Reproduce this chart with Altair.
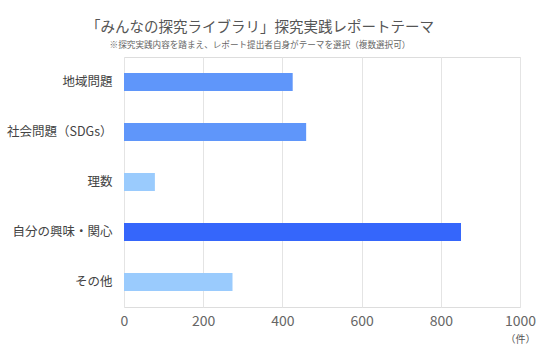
import altair as alt
import pandas as pd

categories = ["地域問題", "社会問題（SDGs）", "理数", "自分の興味・関心", "その他"]
values = [426, 460, 78, 851, 274]
colors = ["#5f96fa", "#5f96fa", "#9acbfd", "#3566fb", "#9acbfd"]

df = pd.DataFrame({"cat": categories, "val": values, "col": colors})

FONT = "Noto Sans CJK JP"

chart = alt.Chart(df).mark_bar().encode(
    y=alt.Y("cat:N", sort=categories, title=None,
            scale=alt.Scale(paddingInner=0.64, paddingOuter=0.32),
            axis=alt.Axis(domain=False, ticks=False, labelPadding=12,
                          labelFontSize=12.5, labelColor="#444444", labelFont=FONT)),
    x=alt.X("val:Q", title="（件）",
            scale=alt.Scale(domain=[0, 1000]),
            axis=alt.Axis(values=[0, 200, 400, 600, 800, 1000], format="d",
                          domain=False, ticks=False, labelFlush=False,
                          gridColor="#e4e4e4", labelFontSize=14, labelColor="#666666",
                          labelFont=FONT, labelPadding=7,
                          titleX=396, titleY=27, titleAlign="center",
                          titleFontSize=10, titleFontWeight="normal",
                          titleColor="#555555", titleFont=FONT)),
    color=alt.Color("col:N", scale=None),
).properties(
    width=396, height=250,
    title=alt.TitleParams(
        text="「みんなの探究ライブラリ」探究実践レポートテーマ",
        subtitle="※探究実践内容を踏まえ、レポート提出者自身がテーマを選択（複数選択可）",
        fontSize=14.5, fontWeight="normal", color="#555555", font=FONT,
        subtitleFontSize=8.6, subtitleColor="#666666", subtitleFont=FONT,
        subtitlePadding=6, anchor="middle", dx=-62, offset=6,
    ),
    autosize="none",
    padding={"left": 124, "top": 57, "right": 26, "bottom": 45},
).configure_view(stroke=None).configure(background="white")

chart.save("out.html", embed_options={"renderer": "svg", "actions": False})
